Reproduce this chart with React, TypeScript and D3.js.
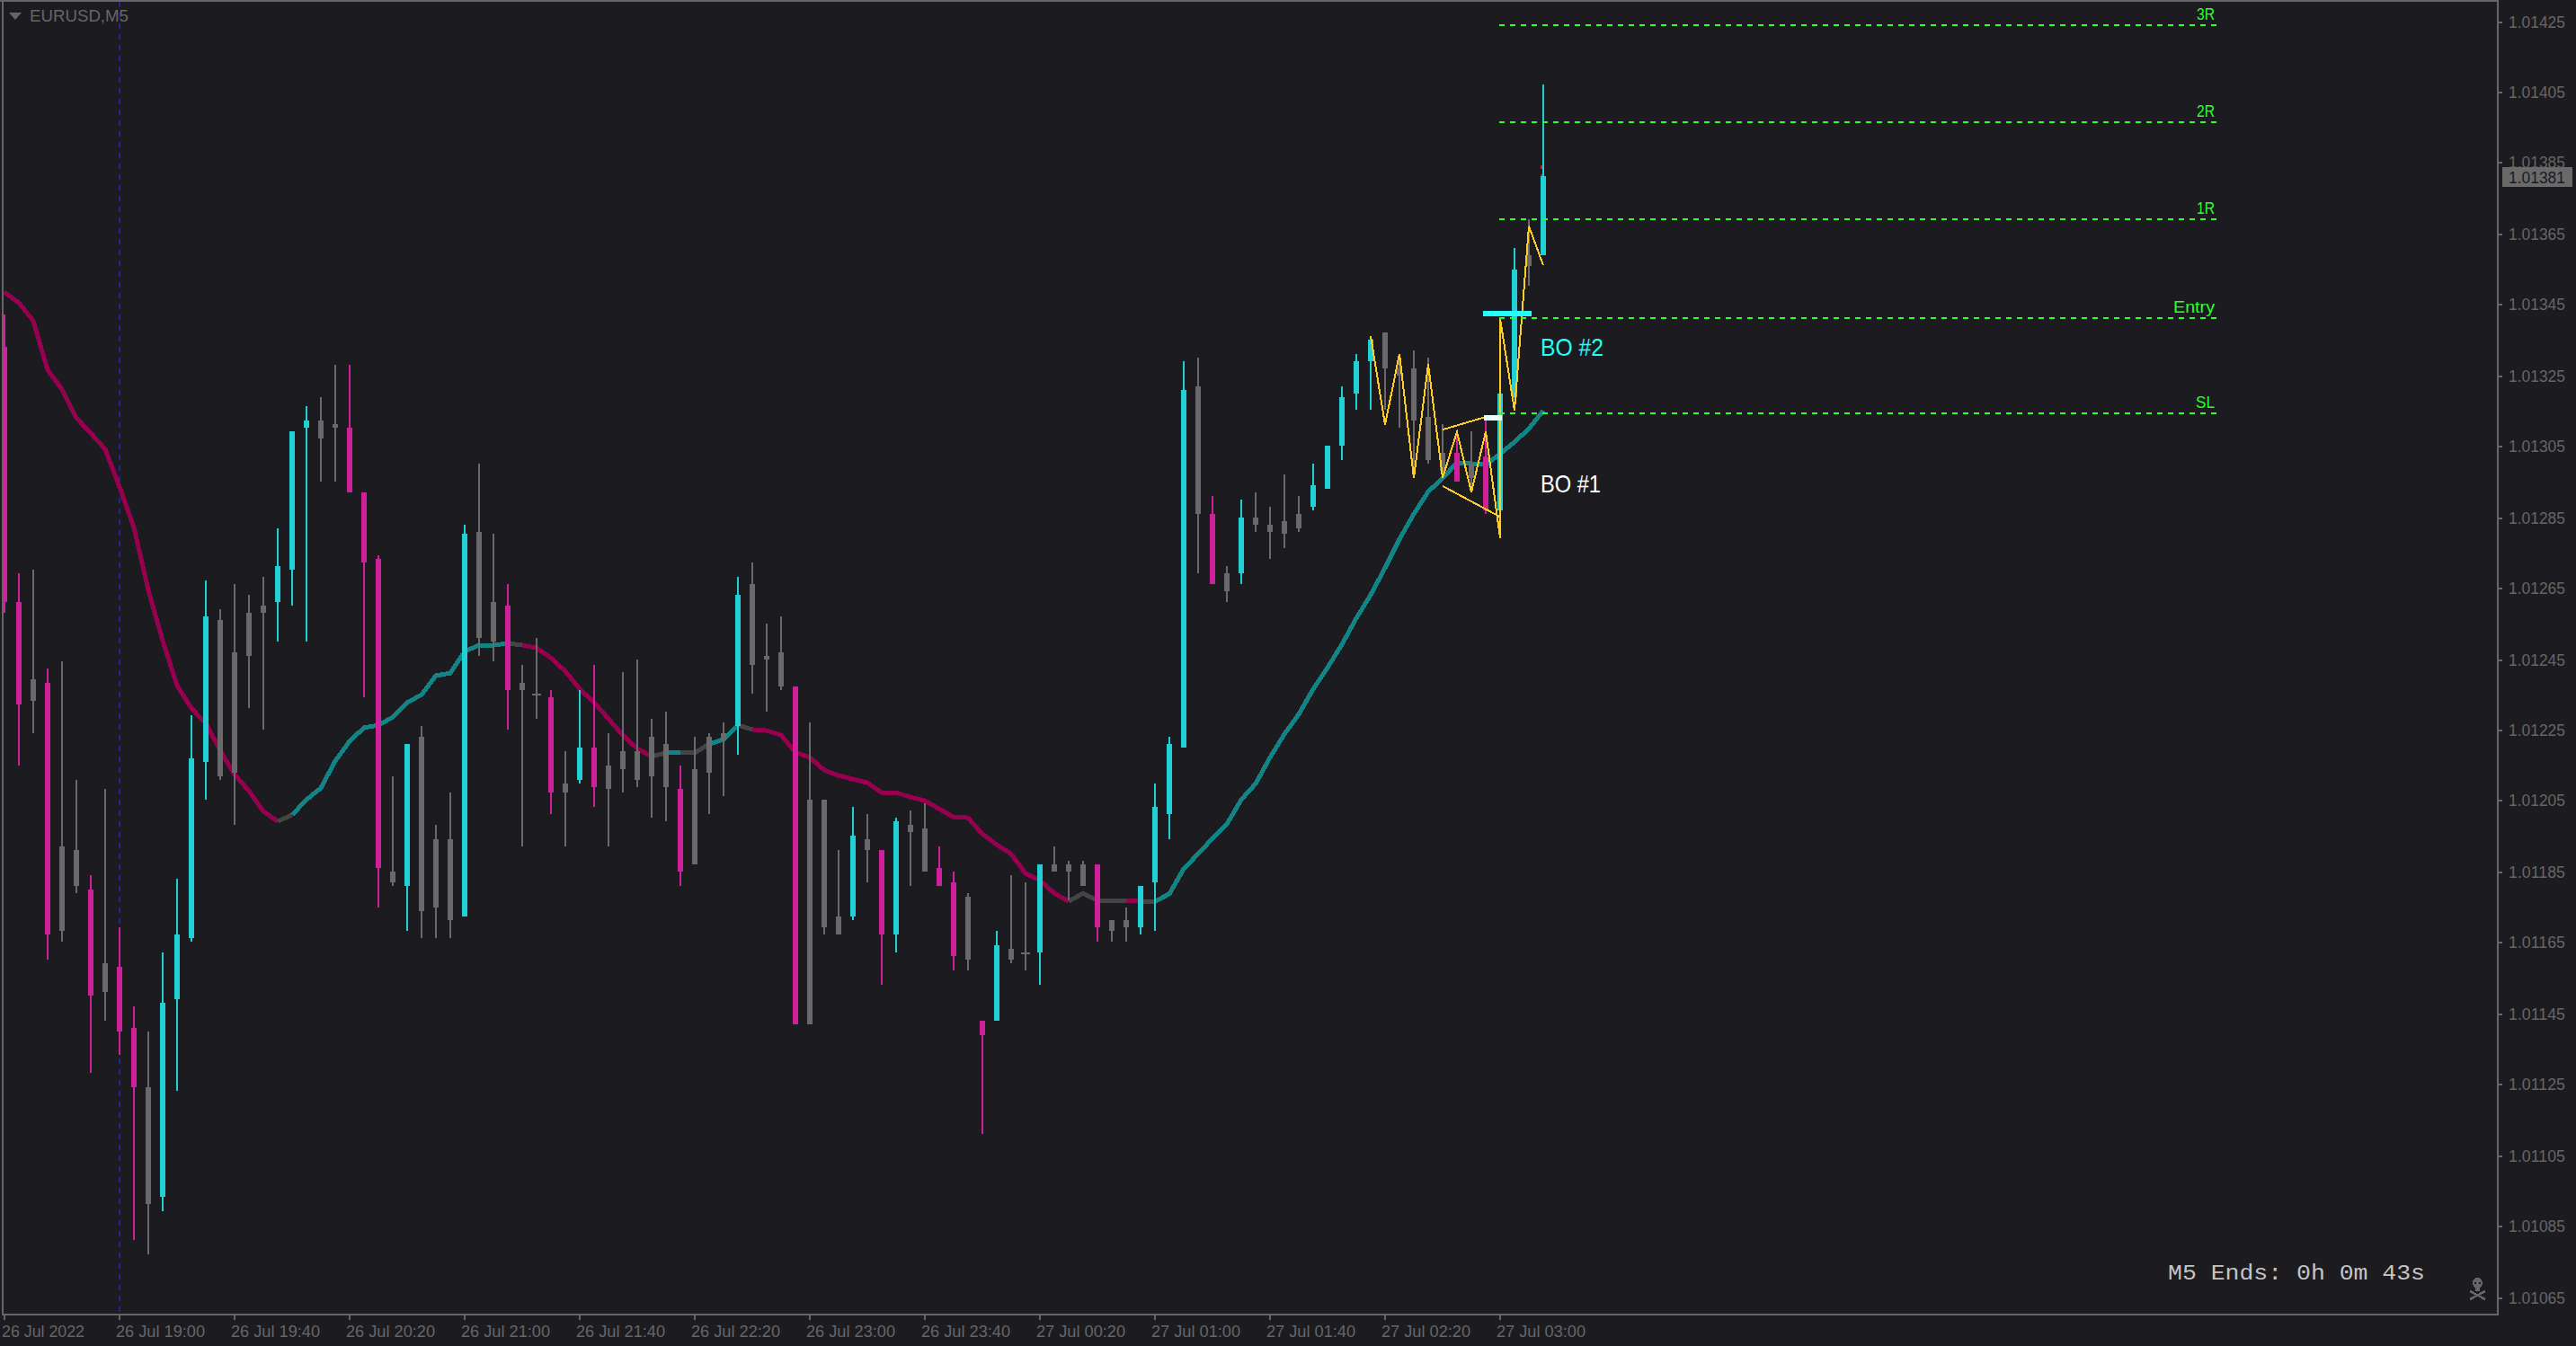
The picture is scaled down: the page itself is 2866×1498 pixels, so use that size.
import React from "react";
import * as d3 from "d3";

const W = 2866, H = 1498;
const symbol = "EURUSD,M5";
const timerText = "M5 Ends: 0h 0m 43s";
const lastPrice = 1.01381;

const tones = "mmgmggmgmm" + "gccccggggc" + "ccggmmmgcg" + "ggcggmggmg" + "cmgggggmgg" + "gcgggmgggc" + "gmcggmmgmc" + "ggcgggmggc" + "cccgmgcggg" + "gcccccgggg" + "gmgmccgc";

const wickHigh = [
  1.01342,1.01269,1.01270,1.01242,1.01244,1.01211,1.01184,1.01208,1.01169,1.01147,
  1.01140,1.01162,1.01183,1.01229,1.01267,1.01259,1.01266,1.01263,1.01268,1.01282,
  1.01309,1.01316,1.01319,1.01328,1.01328,1.01292,1.01274,1.01212,1.01221,1.01226,
  1.01198,1.01207,1.01283,1.01300,1.01280,1.01266,1.01243,1.01251,1.01236,1.01219,
  1.01236,1.01243,1.01224,1.01241,1.01245,1.01228,1.01230,1.01215,1.01223,1.01224,
  1.01227,1.01268,1.01272,1.01255,1.01257,1.01237,1.01227,1.01205,1.01191,1.01203,
  1.01201,1.01191,1.01200,1.01202,1.01204,1.01192,1.01185,1.01179,1.01143,1.01168,
  1.01184,1.01182,1.01187,1.01192,1.01188,1.01188,1.01187,1.01171,1.01175,1.01181,
  1.01210,1.01223,1.01329,1.01330,1.01291,1.01271,1.01290,1.01292,1.01288,1.01297,
  1.01291,1.01300,1.01305,1.01322,1.01331,1.01336,1.01337,1.01331,1.01332,1.01330,
  1.01311,1.01308,1.01309,1.01312,1.01320,1.01361,1.01369,1.01407,
];
const bodyTop = [
  1.01333,1.01261,1.01239,1.01238,1.01192,1.01191,1.01180,1.01159,1.01158,1.01141,
  1.01124,1.01148,1.01167,1.01217,1.01257,1.01256,1.01247,1.01258,1.01260,1.01271,
  1.01309,1.01312,1.01312,1.01311,1.01310,1.01292,1.01273,1.01185,1.01221,1.01223,
  1.01194,1.01194,1.01280,1.01281,1.01261,1.01260,1.01238,1.01235,1.01234,1.01210,
  1.01220,1.01220,1.01215,1.01219,1.01219,1.01223,1.01221,1.01208,1.01214,1.01223,
  1.01224,1.01263,1.01266,1.01246,1.01247,1.01237,1.01205,1.01205,1.01172,1.01195,
  1.01194,1.01191,1.01199,1.01198,1.01197,1.01186,1.01182,1.01178,1.01143,1.01164,
  1.01163,1.01162,1.01187,1.01187,1.01187,1.01187,1.01187,1.01171,1.01171,1.01181,
  1.01203,1.01221,1.01321,1.01322,1.01286,1.01269,1.01285,1.01285,1.01283,1.01284,
  1.01286,1.01294,1.01305,1.01319,1.01329,1.01335,1.01337,1.01327,1.01327,1.01313,
  1.01303,1.01303,1.01300,1.01302,1.01320,1.01355,1.01359,1.01381,
];
const bodyBottom = [
  1.01261,1.01232,1.01233,1.01167,1.01168,1.01181,1.01150,1.01151,1.01140,1.01124,
  1.01091,1.01093,1.01149,1.01166,1.01216,1.01212,1.01213,1.01246,1.01258,1.01261,
  1.01270,1.01310,1.01307,1.01310,1.01292,1.01272,1.01186,1.01182,1.01181,1.01174,
  1.01175,1.01171,1.01172,1.01251,1.01250,1.01236,1.01236,1.01235,1.01207,1.01207,
  1.01211,1.01209,1.01208,1.01214,1.01211,1.01212,1.01209,1.01185,1.01187,1.01213,
  1.01222,1.01226,1.01243,1.01245,1.01237,1.01142,1.01142,1.01169,1.01167,1.01172,
  1.01191,1.01167,1.01167,1.01196,1.01185,1.01181,1.01161,1.01160,1.01139,1.01143,
  1.01160,1.01162,1.01162,1.01185,1.01185,1.01181,1.01169,1.01168,1.01169,1.01169,
  1.01182,1.01201,1.01220,1.01286,1.01266,1.01264,1.01269,1.01283,1.01281,1.01280,
  1.01282,1.01288,1.01293,1.01305,1.01320,1.01329,1.01327,1.01325,1.01312,1.01301,
  1.01298,1.01295,1.01296,1.01287,1.01287,1.01319,1.01356,1.01359,
];
const wickLow = [
  1.01258,1.01215,1.01224,1.01160,1.01165,1.01179,1.01128,1.01143,1.01133,1.01081,
  1.01077,1.01089,1.01123,1.01165,1.01205,1.01211,1.01198,1.01231,1.01225,1.01250,
  1.01260,1.01250,1.01295,1.01295,1.01292,1.01234,1.01175,1.01181,1.01168,1.01166,
  1.01166,1.01166,1.01172,1.01246,1.01244,1.01225,1.01192,1.01228,1.01201,1.01192,
  1.01210,1.01203,1.01192,1.01207,1.01209,1.01200,1.01199,1.01181,1.01187,1.01201,
  1.01206,1.01218,1.01235,1.01230,1.01236,1.01142,1.01142,1.01167,1.01167,1.01171,
  1.01182,1.01153,1.01162,1.01181,1.01185,1.01181,1.01157,1.01157,1.01111,1.01143,
  1.01159,1.01157,1.01153,1.01185,1.01177,1.01181,1.01165,1.01165,1.01165,1.01167,
  1.01168,1.01194,1.01220,1.01269,1.01266,1.01261,1.01266,1.01281,1.01273,1.01276,
  1.01281,1.01287,1.01293,1.01301,1.01315,1.01315,1.01315,1.01310,1.01296,1.01300,
  1.01296,1.01295,1.01292,1.01286,1.01287,1.01319,1.01350,1.01359,
];
const movingAverage = [
  1.013484,1.013454,1.013403,1.013264,1.013210,1.013129,1.013086,1.013041,1.012934,1.012820,
  1.012643,1.012501,1.012374,1.012310,1.012267,1.012191,1.012123,1.012077,1.012019,1.011991,
  1.012009,1.012052,1.012085,1.012161,1.012217,1.012255,1.012262,1.012285,1.012326,1.012348,
  1.012402,1.012409,1.012470,1.012488,1.012488,1.012493,1.012488,1.012480,1.012452,1.012414,
  1.012364,1.012326,1.012280,1.012234,1.012196,1.012174,1.012184,1.012184,1.012184,1.012209,
  1.012222,1.012262,1.012250,1.012247,1.012234,1.012186,1.012171,1.012135,1.012120,1.012110,
  1.012100,1.012072,1.012072,1.012059,1.012049,1.012026,1.012003,1.012001,1.011955,1.011925,
  1.011899,1.011844,1.011824,1.011788,1.011765,1.011788,1.011768,1.011768,1.011768,1.011765,
  1.011765,1.011786,1.011857,1.011899,1.011943,1.011983,1.012052,1.012097,1.012171,1.012237,
  1.012293,1.012364,1.012425,1.012490,1.012564,1.012630,1.012706,1.012787,1.012858,1.012921,
  1.012959,1.013003,1.013000,1.012997,1.013028,1.013061,1.013099,1.013150,
];
// [first bar, last bar, state] of each stretch of the moving average
const maStretches = [
  [0, 19, "down"], [19, 20, "flat"], [20, 35, "up"], [35, 36, "flat"], [36, 45, "down"],
  [45, 46, "flat"], [46, 47, "up"], [47, 49, "flat"], [49, 51, "up"], [51, 52, "flat"],
  [52, 74, "down"], [74, 78, "flat"], [78, 79, "down"], [79, 80, "flat"], [80, 107, "up"],
] as const;

const zigzagBars = [95, 96, 97, 98, 99, 100, 101, 102, 103, 104, 104, 105, 106, 107];
const zigzagPrices = [1.01336, 1.01311, 1.01331, 1.01296, 1.01328, 1.01296, 1.01309, 1.01292, 1.01309, 1.01279, 1.01341, 1.01315, 1.01367, 1.01356];
const wedgeUpper = [[100, 1.013096], [103, 1.013132]];
const wedgeLower = [[100, 1.012937], [104, 1.01285]];

const levelNames = ["3R", "2R", "1R", "Entry", "SL"];
const levelPrices = [1.0142395, 1.013966, 1.01369, 1.013413, 1.01314];
const levelWidths = [20, 20, 20, 46, 21];
const levelFirstBar = 104;
const levelLastBar = 153.8;

const breakoutNames = ["BO #2", "BO #1"];
const breakoutPrices = [1.013304, 1.012919];
const breakoutWidths = [70, 67];
const bo2Bar = [103, 106], bo2Price = 1.013423;
const bo1Bar = [103, 104], bo1Price = 1.01313;

const priceTicks = [1.01425, 1.01405, 1.01385, 1.01365, 1.01345, 1.01325, 1.01305, 1.01285, 1.01265, 1.01245, 1.01225, 1.01205, 1.01185, 1.01165, 1.01145, 1.01125, 1.01105, 1.01085, 1.01065];
const timeTickBars = [0, 8, 16, 24, 32, 40, 48, 56, 64, 72, 80, 88, 96, 104];
const timeTickLabels = ["26 Jul 2022", "26 Jul 19:00", "26 Jul 19:40", "26 Jul 20:20", "26 Jul 21:00", "26 Jul 21:40", "26 Jul 22:20", "26 Jul 23:00", "26 Jul 23:40", "27 Jul 00:20", "27 Jul 01:00", "27 Jul 01:40", "27 Jul 02:20", "27 Jul 03:00"];
const separatorBar = 8;
const askMarks = [1.013835, 1.01381];

const BG = "#1c1b20", AXIS = "#666666";
const toneColor: Record<string, string> = { c: "#20d0d4", m: "#d0219b", g: "#6a6a6a" };
const maColor: Record<string, string> = { down: "#96004f", up: "#128486", flat: "#444444" };
const YELLOW = "#ffcc22", GREEN = "#2cff2c", CYAN = "#22ffff";

const x = d3.scaleLinear().domain([0, 107]).range([5, 1717]);
const yRaw = d3.scaleLinear().domain([1.01065, 1.01425]).range([1443, 23]);
const y = (p: number) => Math.round(yRaw(p) / 2) * 2;

const plot = { left: 2, right: 2780, top: 0, bottom: 1464 };
const font = "'Liberation Sans', sans-serif";

function Candle({ i }: { i: number }) {
  const c = toneColor[tones[i]];
  const cx = x(i), top = y(bodyTop[i]), bot = y(bodyBottom[i]);
  const doji = bot - top < 2;
  return (
    <g fill={c}>
      <rect x={cx - 1} y={y(wickHigh[i])} width={2} height={Math.max(0, y(wickLow[i]) - y(wickHigh[i]))} />
      {doji
        ? <rect x={cx - 5} y={top} width={10} height={2} />
        : <rect x={cx - 3} y={top} width={6} height={bot - top} />}
    </g>
  );
}

function Skull() {
  return (
    <g shapeRendering="crispEdges">
      <ellipse cx={2756.5} cy={1428} rx={5.5} ry={6} fill={AXIS} />
      <rect x={2754} y={1432} width={5} height={5} fill={AXIS} />
      <rect x={2753} y={1427} width={2} height={2} fill={BG} />
      <rect x={2758} y={1427} width={2} height={2} fill={BG} />
      <path d="M2748 1437L2765 1446M2748 1446L2765 1437" stroke={AXIS} strokeWidth={2.5} fill="none" />
    </g>
  );
}

export default function App() {
  const barPrice = d3.line<number>().x((i) => x(i)).y((i) => yRaw(movingAverage[i]));
  const zig = d3.line<number>().x((i) => x(zigzagBars[i])).y((i) => yRaw(zigzagPrices[i]));
  const wedge = d3.line<number[]>().x((d) => x(d[0])).y((d) => yRaw(d[1]));
  return (
    <svg width={W} height={H} viewBox={`0 0 ${W} ${H}`} style={{ position: "fixed", left: 0, top: 0, display: "block" }}>
      <defs>
        <clipPath id="plot"><rect x={plot.left + 2} y={2} width={plot.right - plot.left - 4} height={plot.bottom - 4} /></clipPath>
      </defs>
      <rect width={W} height={H} fill={BG} />
      <path d="M10 14H24L17 22Z" fill={AXIS} />
      <text x={33} y={24} fontFamily={font} fontSize={18} fill={AXIS} textLength={110} lengthAdjust="spacingAndGlyphs">{symbol}</text>

      <g clipPath="url(#plot)">
        <line x1={x(separatorBar)} x2={x(separatorBar)} y1={2} y2={1462} stroke="#222299" strokeWidth={2} strokeDasharray="6 6" shapeRendering="crispEdges" />
        {maStretches.map(([a, b, s], k) => (
          <path key={k} d={barPrice(d3.range(a, b + 1)) ?? ""} fill="none" stroke={maColor[s]} strokeWidth={5} strokeLinejoin="round" shapeRendering="crispEdges" />
        ))}
        <g shapeRendering="crispEdges">
          {wickHigh.map((_, i) => <Candle key={i} i={i} />)}
        </g>
        <g fill="#ee1111" shapeRendering="crispEdges">
          {askMarks.map((p, k) => <rect key={k} x={x(107) - 3} y={y(p) - 2} width={2} height={k ? 2 : 4} />)}
        </g>
        <g fill="none" stroke={YELLOW} strokeWidth={2} shapeRendering="crispEdges">
          <path d={zig(d3.range(zigzagBars.length)) ?? ""} />
          <path d={wedge(wedgeUpper) ?? ""} />
          <path d={wedge(wedgeLower) ?? ""} />
        </g>
        <line x1={x(bo1Bar[0]) - 2} x2={x(bo1Bar[1]) + 2} y1={yRaw(bo1Price)} y2={yRaw(bo1Price)} stroke="#e6ffff" strokeWidth={6} shapeRendering="crispEdges" />
        <line x1={x(bo2Bar[0]) - 3} x2={x(bo2Bar[1]) + 3} y1={yRaw(bo2Price)} y2={yRaw(bo2Price)} stroke={CYAN} strokeWidth={6} shapeRendering="crispEdges" />
        <g stroke={GREEN} strokeWidth={2} strokeDasharray="6 6" shapeRendering="crispEdges">
          {levelPrices.map((p) => (
            <line key={p} x1={x(levelFirstBar) - 1} x2={x(levelLastBar)} y1={y(p)} y2={y(p)} />
          ))}
        </g>
        <g fontFamily={font} fontSize={18} fill={GREEN} textAnchor="start">
          {levelNames.map((n, k) => (
            <text key={n} x={2464 - levelWidths[k]} y={y(levelPrices[k]) - 6} textLength={levelWidths[k]} lengthAdjust="spacingAndGlyphs">{n}</text>
          ))}
        </g>
        <g fontFamily={font} fontSize={28}>
          {breakoutNames.map((n, k) => (
            <text key={n} x={x(107) - 3} y={yRaw(breakoutPrices[k])} fill={k ? "#ffffff" : CYAN} textLength={breakoutWidths[k]} lengthAdjust="spacingAndGlyphs">{n}</text>
          ))}
        </g>
        <text x={2412} y={1424} fontFamily="'Liberation Mono', monospace" fontSize={24} fill="#c4c4c4" textLength={286} lengthAdjust="spacingAndGlyphs">{timerText}</text>
        <Skull />
      </g>

      <g shapeRendering="crispEdges" fill={AXIS}>
        <rect x={0} y={0} width={plot.right} height={2} />
        <rect x={plot.left} y={0} width={2} height={plot.bottom} />
        <rect x={plot.left} y={plot.bottom - 2} width={plot.right - plot.left} height={2} />
        <rect x={plot.right - 2} y={0} width={2} height={plot.bottom} />
        {priceTicks.map((p) => <rect key={p} x={plot.right} y={y(p)} width={4} height={2} />)}
        {timeTickBars.map((b) => <rect key={b} x={x(b) - 1} y={plot.bottom} width={2} height={5} />)}
      </g>
      <g fontFamily={font} fontSize={18} fill={AXIS}>
        {priceTicks.map((p) => (
          <text key={p} x={2791} y={y(p) + 7} textLength={63} lengthAdjust="spacingAndGlyphs">{p.toFixed(5)}</text>
        ))}
        {timeTickBars.map((b, k) => (
          <text key={b} x={x(b) - (k ? 4 : 3)} y={1488} textLength={k ? 99 : 92} lengthAdjust="spacingAndGlyphs">{timeTickLabels[k]}</text>
        ))}
      </g>
      <rect x={2784} y={y(lastPrice) - 10} width={78} height={22} fill="#6a6a6a" shapeRendering="crispEdges" />
      <text x={2791} y={y(lastPrice) + 8} fontFamily={font} fontSize={18} fill={BG} textLength={63} lengthAdjust="spacingAndGlyphs">{lastPrice.toFixed(5)}</text>
    </svg>
  );
}
